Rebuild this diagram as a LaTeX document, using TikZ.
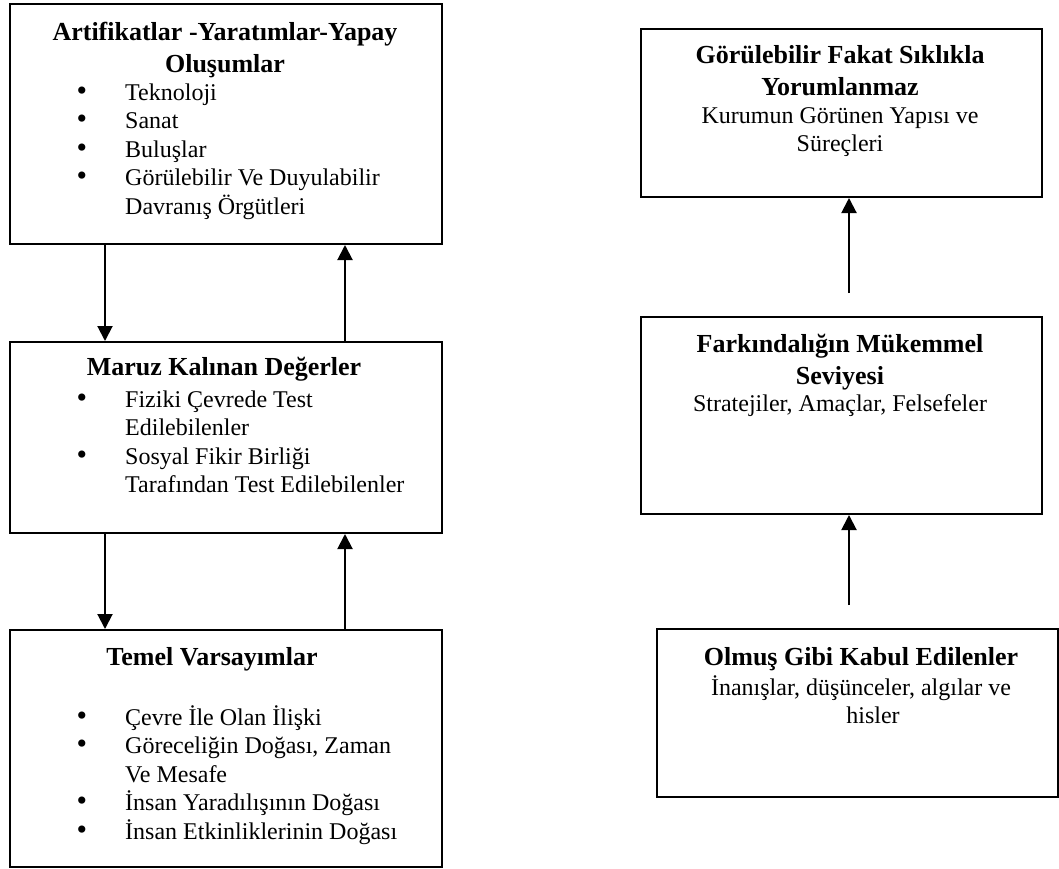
\documentclass[tikz,border=0pt]{standalone}
\usepackage{fontspec}
\setmainfont{Liberation Serif}
\usetikzlibrary{arrows.meta}

\newcommand{\bul}{\llap{\smash{\fontsize{30}{0}\selectfont\textbullet}\hspace{38pt}}}

\begin{document}
\begin{tikzpicture}[x=1pt, y=-1pt,
    block/.style={
        rectangle, draw, anchor=north west,
        inner sep=0pt, line width=2pt
    },
    title/.style={
        anchor=base, align=center, inner sep=0pt,
        font=\fontsize{26}{32}\selectfont\bfseries
    },
    body/.style={
        anchor=base west, align=left, inner sep=0pt,
        font=\fontsize{24}{28.5}\selectfont
    },
    cbody/.style={
        anchor=base, align=center, inner sep=0pt,
        font=\fontsize{24}{28}\selectfont
    },
    arrow/.style={-{Triangle[width=15pt,length=15pt]}, line width=2pt}
]
  \useasboundingbox (0,0) rectangle (1059,868);

  % Left column (text nodes sit on the baseline of their last line)
  \node[block, minimum width=432pt, minimum height=240pt] (art) at (9,3) {};
  \node[block, minimum width=432pt, minimum height=191pt] (maruz) at (9,341) {};
  \node[block, minimum width=432pt, minimum height=237pt] (temel) at (9,629) {};

  \node[title] (artT) at (225,72) {Artifikatlar -Yaratımlar-Yapay\\Oluşumlar};
  \node[body] (artB) at (125,214) {\bul Teknoloji\\\bul Sanat\\\bul Buluşlar\\
      \bul Görülebilir Ve Duyulabilir\\Davranış Örgütleri};

  \node[title] (maruzT) at (224,375) {Maruz Kalınan Değerler};
  \node[body] (maruzB) at (125,492.5) {\bul Fiziki Çevrede Test\\Edilebilenler\\
      \bul Sosyal Fikir Birliği\\Tarafından Test Edilebilenler};

  \node[title] (temelT) at (212,665) {Temel Varsayımlar};
  \node[body] (temelB) at (125,839) {\bul Çevre İle Olan İlişki\\
      \bul Göreceliğin Doğası, Zaman\\Ve Mesafe\\
      \bul İnsan Yaradılışının Doğası\\\bul İnsan Etkinliklerinin Doğası};

  % Right column
  \node[block, minimum width=401pt, minimum height=168pt] (gor) at (640,28) {};
  \node[block, minimum width=401pt, minimum height=197pt] (fark) at (640,316) {};
  \node[block, minimum width=401pt, minimum height=168pt] (olmus) at (656,628) {};

  \node[title] (gorT) at (840,95) {Görülebilir Fakat Sıklıkla\\Yorumlanmaz};
  \node[cbody] (gorB) at (840,151) {Kurumun Görünen Yapısı ve\\Süreçleri};

  \node[title] (farkT) at (840,384) {Farkındalığın Mükemmel\\Seviyesi};
  \node[cbody] (farkB) at (840,411) {Stratejiler, Amaçlar, Felsefeler};

  \node[title] (olmusT) at (861,665) {Olmuş Gibi Kabul Edilenler};
  \node[cbody] (olmusB) at (861,723) {İnanışlar, düşünceler, algılar ve\\\hspace{24pt}hisler};

  % Arrows
  \coordinate (lx) at (105,0);
  \coordinate (rx) at (345,0);
  \coordinate (farkIn) at (849,293);
  \coordinate (olmusIn) at (849,605);

  \draw[arrow] (art.south -| lx) -- (maruz.north -| lx);
  \draw[arrow] (maruz.north -| rx) -- (art.south -| rx);
  \draw[arrow] (maruz.south -| lx) -- (temel.north -| lx);
  \draw[arrow] (temel.north -| rx) -- (maruz.south -| rx);

  \draw[arrow] (farkIn) -- (gor.south -| farkIn);
  \draw[arrow] (olmusIn) -- (fark.south -| olmusIn);

\end{tikzpicture}
\end{document}
